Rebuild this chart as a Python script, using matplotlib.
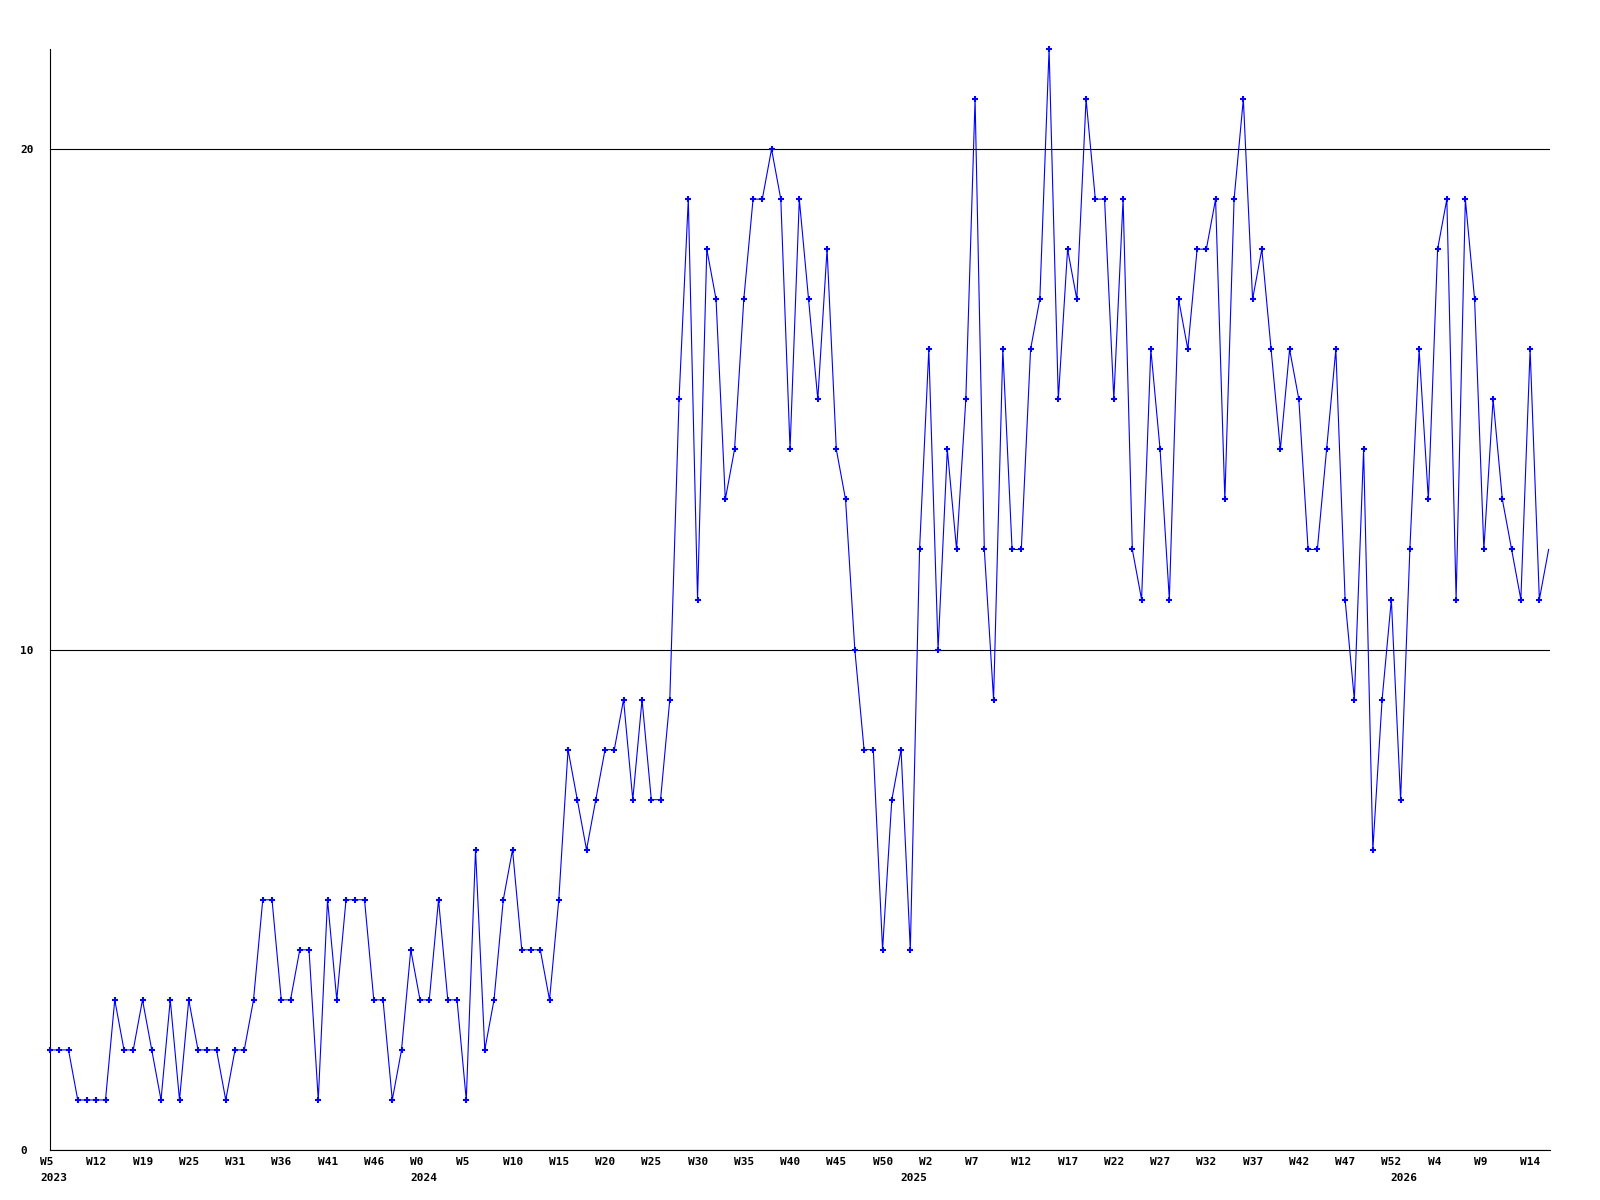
import matplotlib
matplotlib.use("Agg")
import matplotlib.pyplot as plt
import matplotlib.transforms as mtransforms

# weekly counts, one value per point (index based x axis)
values = [
    2, 2, 2, 1, 1, 1, 1, 3, 2, 2, 3, 2, 1, 3, 1, 3, 2, 2, 2, 1,
    2, 2, 3, 5, 5, 3, 3, 4, 4, 1, 5, 3, 5, 5, 5, 3, 3, 1, 2, 4,
    3, 3, 5, 3, 3, 1, 6, 2, 3, 5, 6, 4, 4, 4, 3, 5, 8, 7, 6, 7,
    8, 8, 9, 7, 9, 7, 7, 9, 15, 19, 11, 18, 17, 13, 14, 17, 19, 19, 20, 19,
    14, 19, 17, 15, 18, 14, 13, 10, 8, 8, 4, 7, 8, 4, 12, 16, 10, 14, 12, 15,
    21, 12, 9, 16, 12, 12, 16, 17, 22, 15, 18, 17, 21, 19, 19, 15, 19, 12, 11, 16,
    14, 11, 17, 16, 18, 18, 19, 13, 19, 21, 17, 18, 16, 14, 16, 15, 12, 12, 14, 16,
    11, 9, 14, 6, 9, 11, 7, 12, 16, 13, 18, 19, 11, 19, 17, 12, 15, 13, 12, 11,
    16, 11, 12,
]

week_labels = ["W5", "W12", "W19", "W25", "W31", "W36", "W41", "W46", "W0",
               "W5", "W10", "W15", "W20", "W25", "W30", "W35", "W40", "W45",
               "W50", "W2", "W7", "W12", "W17", "W22", "W27", "W32", "W37",
               "W42", "W47", "W52", "W4", "W9", "W14"]
week_positions = list(range(0, 5 * len(week_labels), 5))

year_labels = ["2023", "2024", "2025", "2026"]
year_positions = [0, 40, 93, 146]

y_ticks = [0, 10, 20]

fig = plt.figure(figsize=(16, 12), dpi=100)
ax = fig.add_axes([50 / 1600, 1 - 1150 / 1200, 1500 / 1600, 1101 / 1200])

x = list(range(len(values)))
ax.plot(x, values, color="#0000ff", linewidth=0.8, marker="+",
        markersize=5, markeredgewidth=1.5, markevery=list(range(len(values) - 1)),
        clip_on=False, zorder=3)

ax.set_xlim(0, len(values) - 0.85)
ax.set_ylim(0, 22)

for s in ["top", "right"]:
    ax.spines[s].set_visible(False)
for s in ["left", "bottom"]:
    ax.spines[s].set_linewidth(0.8)
    ax.spines[s].set_color("black")

ax.set_yticks(y_ticks)
ax.set_yticklabels([str(v) for v in y_ticks])
ax.yaxis.grid(True, color="black", linewidth=0.8)
ax.set_axisbelow(True)
ax.tick_params(axis="y", length=0, pad=21.5)
for lab in ax.get_yticklabels():
    lab.set_horizontalalignment("left")
    lab.set_fontfamily("DejaVu Sans Mono")
    lab.set_fontweight("bold")
    lab.set_fontsize(8)

# labels sit a few pixels left of their point
shift = mtransforms.ScaledTranslation(-10 / 100, 0, fig.dpi_scale_trans)
ax.set_xticks(week_positions)
ax.set_xticklabels(week_labels)
ax.tick_params(axis="x", length=0, pad=5)
for lab in ax.get_xticklabels():
    lab.set_horizontalalignment("left")
    lab.set_fontfamily("DejaVu Sans Mono")
    lab.set_fontweight("bold")
    lab.set_fontsize(8)
    lab.set_transform(lab.get_transform() + shift)

trans = mtransforms.blended_transform_factory(ax.transData, ax.transAxes) + shift
for pos, yr in zip(year_positions, year_labels):
    ax.text(pos, -23 / 1101, yr, transform=trans, ha="left", va="top",
            fontfamily="DejaVu Sans Mono", fontweight="bold", fontsize=8)

fig.savefig("out.png", dpi=100, facecolor="white")
